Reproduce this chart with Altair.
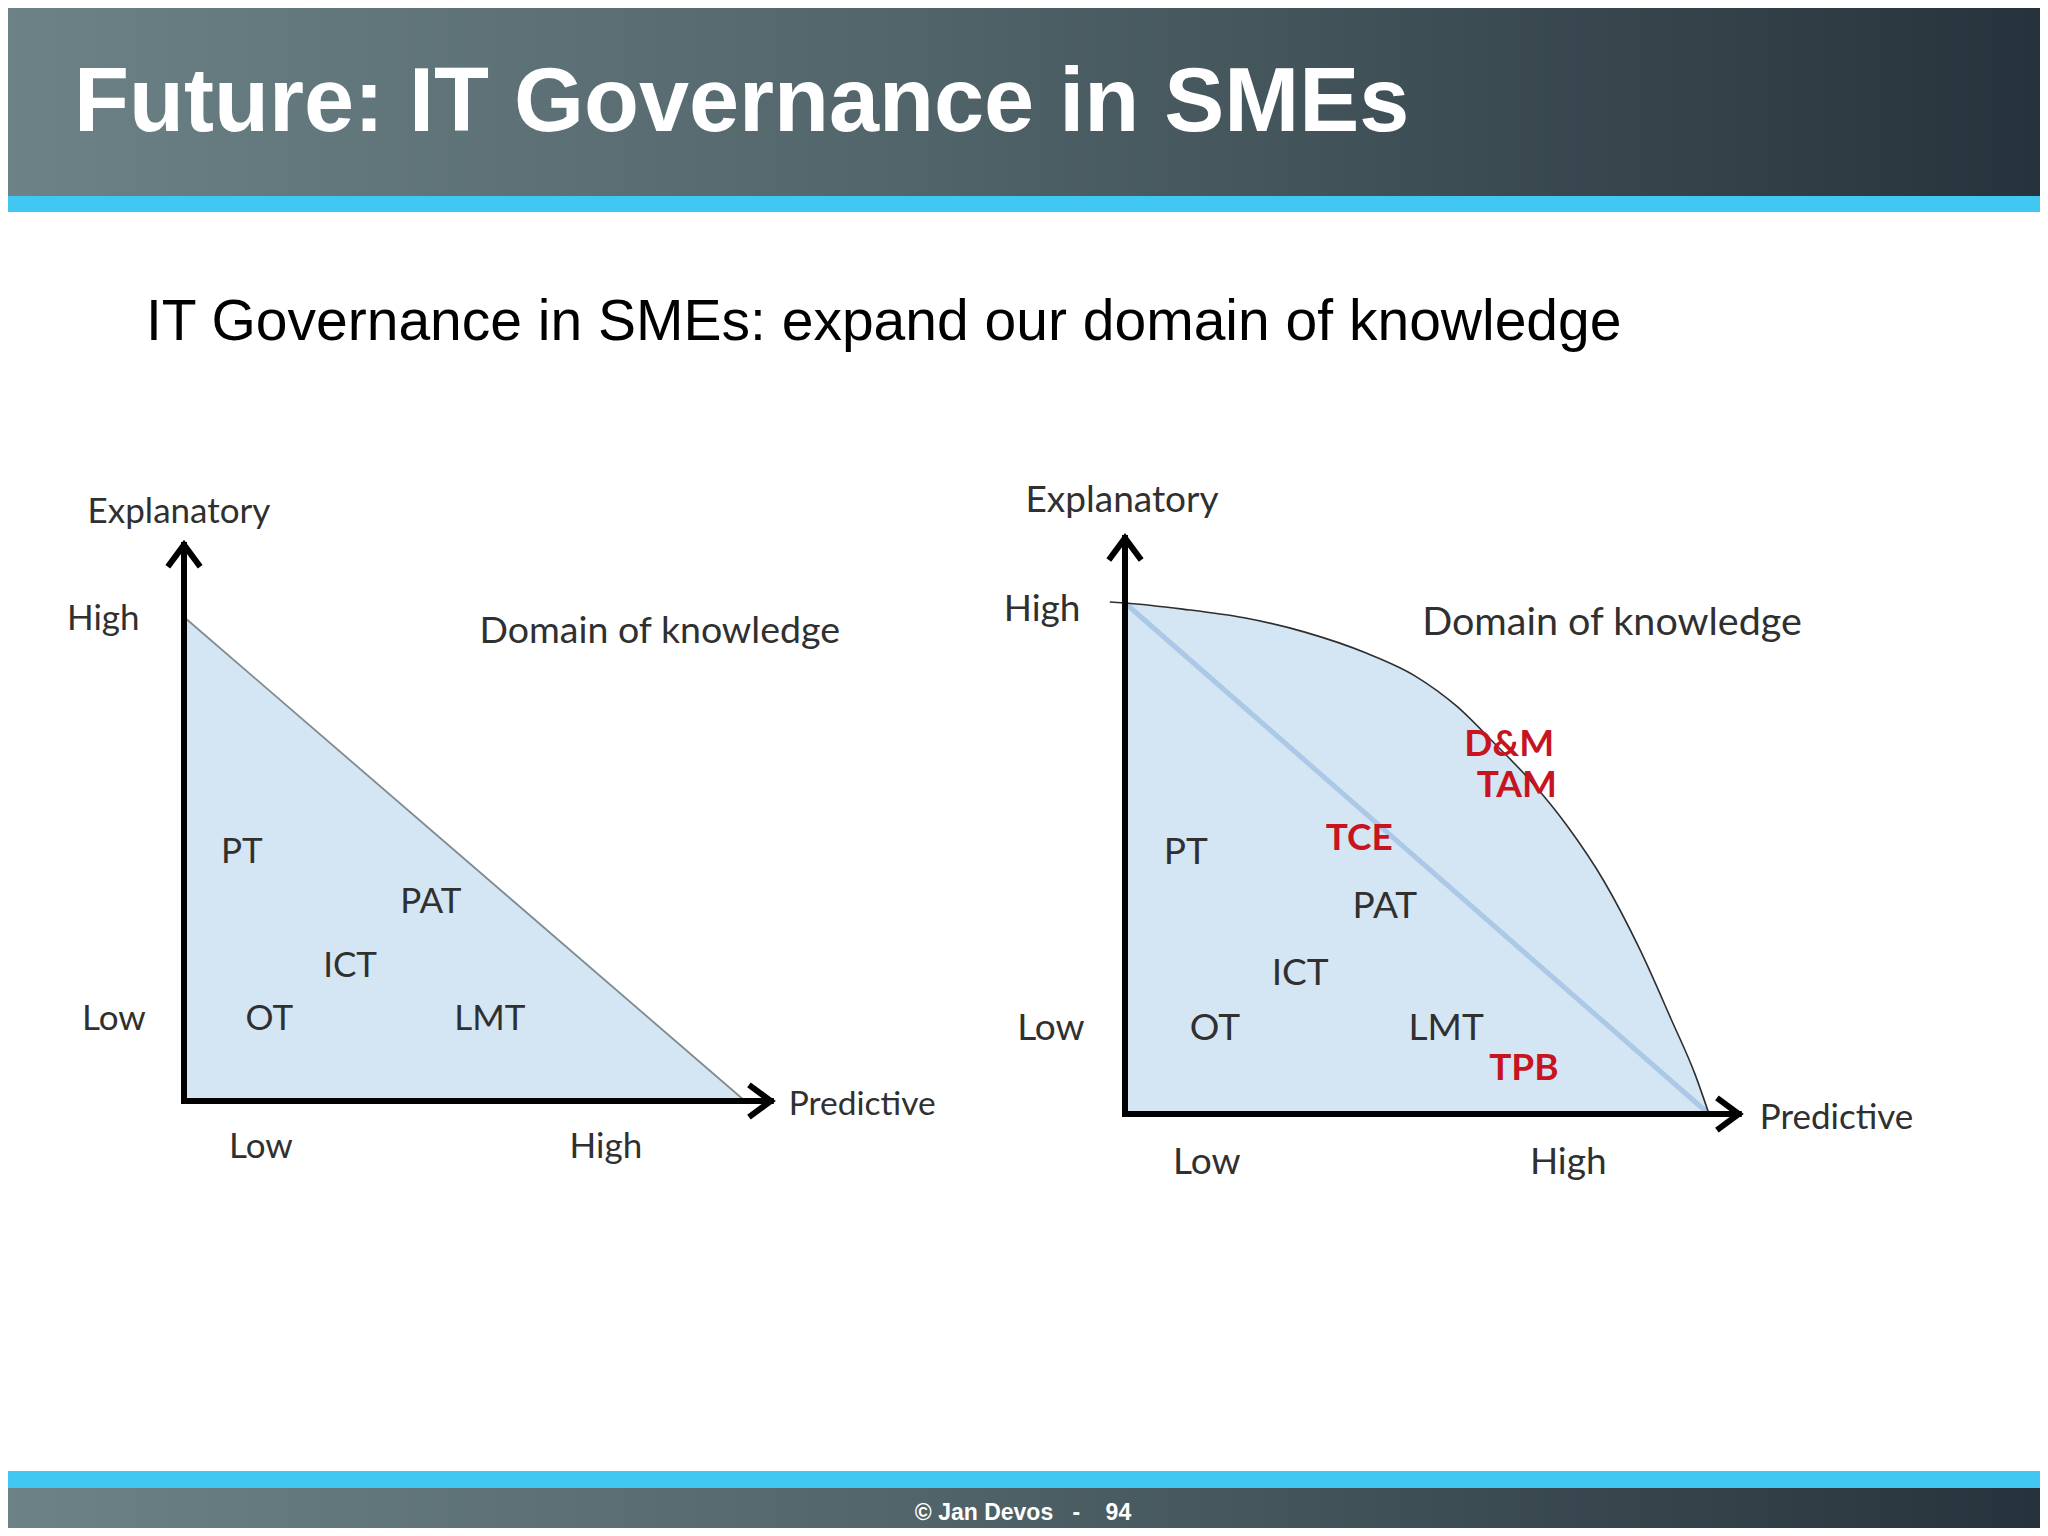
import altair as alt
import pandas as pd

W, H = 2032, 1520

# ---------------- slide texts ----------------
title_text = "Future: IT Governance in SMEs"
subtitle_text = "IT Governance in SMEs: expand our domain of knowledge"
footer_text = "\u00a9 Jan Devos\u00a0\u00a0\u00a0-\u00a0\u00a0\u00a0 94"

# ---------------- left diagram (x = predictive, y = explanatory, 0..1) ----------------
left_theories = ["PT", "PAT", "ICT", "OT", "LMT"]
left_theory_x = [0.103, 0.440, 0.296, 0.152, 0.545]
left_theory_y = [0.514, 0.411, 0.279, 0.169, 0.169]

left_frontier_x = [0.0, 1.0]
left_frontier_y = [1.0, 0.0]

left_axis_tip_x = 1.046
left_axis_tip_y = 1.149

left_tick_labels = ["High", "Low", "Low", "High"]
left_tick_x = [-0.144, -0.125, 0.137, 0.752]
left_tick_y = [0.996, 0.169, -0.095, -0.095]

left_axis_title = ["Explanatory"]
left_axis_title_x = [-0.009]
left_axis_title_y = [1.217]
left_domain_label = ["Domain of knowledge"]
left_domain_x = [0.848]
left_domain_y = [0.969]
left_pred_x = [1.078]
left_pred_y = [-0.008]

# ---------------- right diagram ----------------
right_theories = ["PT", "PAT", "ICT", "OT", "LMT"]
right_theory_x = [0.104, 0.445, 0.300, 0.154, 0.550]
right_theory_y = [0.511, 0.405, 0.274, 0.166, 0.166]

right_new = ["D&M", "TAM", "TCE", "TPB"]
right_new_x = [0.658, 0.671, 0.401, 0.683]
right_new_y = [0.722, 0.642, 0.538, 0.088]

right_frontier_x = [-0.026, 0.0, 0.099, 0.204, 0.308, 0.413, 0.497, 0.568, 0.632,
                    0.693, 0.757, 0.820, 0.882, 0.935, 0.976, 1.0]
right_frontier_y = [1.002, 1.0, 0.988, 0.971, 0.943, 0.902, 0.857, 0.798, 0.726,
                    0.654, 0.564, 0.456, 0.321, 0.186, 0.078, 0.0]

right_old_x = [0.0, 1.0]
right_old_y = [1.0, 0.0]

right_axis_tip_x = 1.051
right_axis_tip_y = 1.127

right_tick_labels = ["High", "Low", "Low", "High"]
right_tick_x = [-0.142, -0.127, 0.140, 0.759]
right_tick_y = [0.986, 0.166, -0.096, -0.096]

right_axis_title = ["Explanatory"]
right_axis_title_x = [-0.005]
right_axis_title_y = [1.200]
right_domain_label = ["Domain of knowledge"]
right_domain_x = [0.834]
right_domain_y = [0.961]
right_pred_x = [1.087]
right_pred_y = [-0.008]

# ---------------- styling ----------------
FONT = "Lato"
HEAD_FONT = "Liberation Sans"
FILL_BLUE = "#d4e5f3"
TXT = "#303030"
RED = "#c8141f"
STRIPE = "#40c8f2"

grad = alt.Gradient(
    gradient="linear",
    stops=[
        alt.GradientStop(color="#6c8286", offset=0),
        alt.GradientStop(color="#51646a", offset=0.45),
        alt.GradientStop(color="#27333c", offset=1),
    ],
    x1=0, x2=1, y1=0, y2=0,
)

one = pd.DataFrame({"a": [0]})


def deco_rect(y0, y1, fill):
    return alt.Chart(one).mark_rect(fill=fill, stroke=None).encode(
        x=alt.value(0), x2=alt.value(W), y=alt.value(y0), y2=alt.value(y1)
    )


def deco_text(txt, x, y, size, color, weight="normal", align="left", font=HEAD_FONT):
    return alt.Chart(one).mark_text(
        text=txt, fontSize=size, fontWeight=weight, color=color, align=align,
        baseline="alphabetic", font=font
    ).encode(x=alt.value(x), y=alt.value(y))


layers = []

# header / footer
layers.append(deco_rect(0, 188, grad))
layers.append(deco_rect(188, 204, STRIPE))
layers.append(deco_rect(1463, 1480, STRIPE))
layers.append(deco_rect(1480, H, grad))
layers.append(deco_text(title_text, 66, 123, 90, "white", weight="bold"))
layers.append(deco_text(subtitle_text, 138, 332, 57, "black"))
layers.append(deco_text(footer_text, 1015, 1512, 23, "white", weight="bold", align="center"))


def build(xr, yr, theories, tx, ty, fx, fy, tip_x, tip_y, ticks, tkx, tky,
          atitle, atx, aty, dom, dx, dy, px, py, fsize, dsize, psize, curve,
          old=None, new=None):
    XS = alt.Scale(domain=[0, 1], range=xr, nice=False, zero=False)
    YS = alt.Scale(domain=[0, 1], range=yr, nice=False, zero=False)
    X = lambda f="x": alt.X(f"{f}:Q", scale=XS, axis=None)
    Y = lambda f="y": alt.Y(f"{f}:Q", scale=YS, axis=None)
    out = []
    fr = pd.DataFrame({"x": fx, "y": fy})
    fr_in = fr[fr["x"] >= 0]
    interp = "monotone" if curve else "linear"
    out.append(alt.Chart(fr_in).mark_area(color=FILL_BLUE, opacity=1, interpolate=interp).encode(
        x=X(), y=Y(), y2=alt.datum(0)))
    if old is not None:
        od = pd.DataFrame({"x": old[0], "y": old[1]})
        out.append(alt.Chart(od).mark_line(color="#abc9e6", strokeWidth=5).encode(x=X(), y=Y()))
    out.append(alt.Chart(fr).mark_line(
        color="#2e2e2e" if curve else "#7f8b90", strokeWidth=1.6 if curve else 1.8,
        interpolate=interp).encode(x=X(), y=Y()))
    ax = pd.DataFrame({"x": [0, 0], "y": [0, 0], "x2": [0, tip_x], "y2": [tip_y, 0]})
    out.append(alt.Chart(ax).mark_rule(color="black", strokeWidth=6, strokeCap="square").encode(
        x=X("x"), y=Y("y"), x2="x2:Q", y2="y2:Q"))
    up = pd.DataFrame({"x": [0], "y": [tip_y]})
    out.append(alt.Chart(up).mark_point(
        shape="M-1,1.35L0,0L1,1.35", size=1050, filled=False, stroke="black",
        strokeWidth=6, opacity=1, strokeJoin="miter").encode(x=X(), y=Y()))
    rt = pd.DataFrame({"x": [tip_x], "y": [0]})
    out.append(alt.Chart(rt).mark_point(
        shape="M-1.35,-1L0,0L-1.35,1", size=1050, filled=False, stroke="black",
        strokeWidth=6, opacity=1, strokeJoin="miter").encode(x=X(), y=Y()))
    td = pd.DataFrame({"label": theories, "x": tx, "y": ty})
    out.append(alt.Chart(td).mark_text(font=FONT, fontSize=fsize, color=TXT, baseline="middle").encode(
        x=X(), y=Y(), text="label:N"))
    if new is not None:
        nd = pd.DataFrame({"label": new[0], "x": new[1], "y": new[2]})
        out.append(alt.Chart(nd).mark_text(font=FONT, fontSize=fsize, color=RED, fontWeight="bold",
                                           baseline="middle").encode(x=X(), y=Y(), text="label:N"))
    kd = pd.DataFrame({"label": ticks, "x": tkx, "y": tky})
    out.append(alt.Chart(kd).mark_text(font=FONT, fontSize=fsize, color=TXT, baseline="middle").encode(
        x=X(), y=Y(), text="label:N"))
    ad = pd.DataFrame({"label": atitle, "x": atx, "y": aty})
    out.append(alt.Chart(ad).mark_text(font=FONT, fontSize=fsize, color=TXT, baseline="middle").encode(
        x=X(), y=Y(), text="label:N"))
    dd = pd.DataFrame({"label": dom, "x": dx, "y": dy})
    out.append(alt.Chart(dd).mark_text(font=FONT, fontSize=dsize, color=TXT, baseline="middle").encode(
        x=X(), y=Y(), text="label:N"))
    pd_ = pd.DataFrame({"label": ["Predictive"], "x": px, "y": py})
    out.append(alt.Chart(pd_).mark_text(font=FONT, fontSize=psize, color=TXT, baseline="middle",
                                        align="left").encode(x=X(), y=Y(), text="label:N"))
    return out


layers += build([176, 737], [1093, 609], left_theories, left_theory_x, left_theory_y,
                left_frontier_x, left_frontier_y, left_axis_tip_x, left_axis_tip_y,
                left_tick_labels, left_tick_x, left_tick_y,
                left_axis_title, left_axis_title_x, left_axis_title_y,
                left_domain_label, left_domain_x, left_domain_y,
                left_pred_x, left_pred_y, 35, 37.5, 33.5, curve=False)

layers += build([1117, 1701], [1106, 595], right_theories, right_theory_x, right_theory_y,
                right_frontier_x, right_frontier_y, right_axis_tip_x, right_axis_tip_y,
                right_tick_labels, right_tick_x, right_tick_y,
                right_axis_title, right_axis_title_x, right_axis_title_y,
                right_domain_label, right_domain_x, right_domain_y,
                right_pred_x, right_pred_y, 37, 39.5, 35, curve=True,
                old=(right_old_x, right_old_y),
                new=(right_new, right_new_x, right_new_y))

chart = alt.layer(*layers).resolve_scale(x="independent", y="independent").properties(
    width=W, height=H, autosize=alt.AutoSizeParams(type="none"), padding=0, background="white"
).configure_view(stroke=None)

chart.save("out.html", embed_options={"renderer": "svg", "actions": False})
